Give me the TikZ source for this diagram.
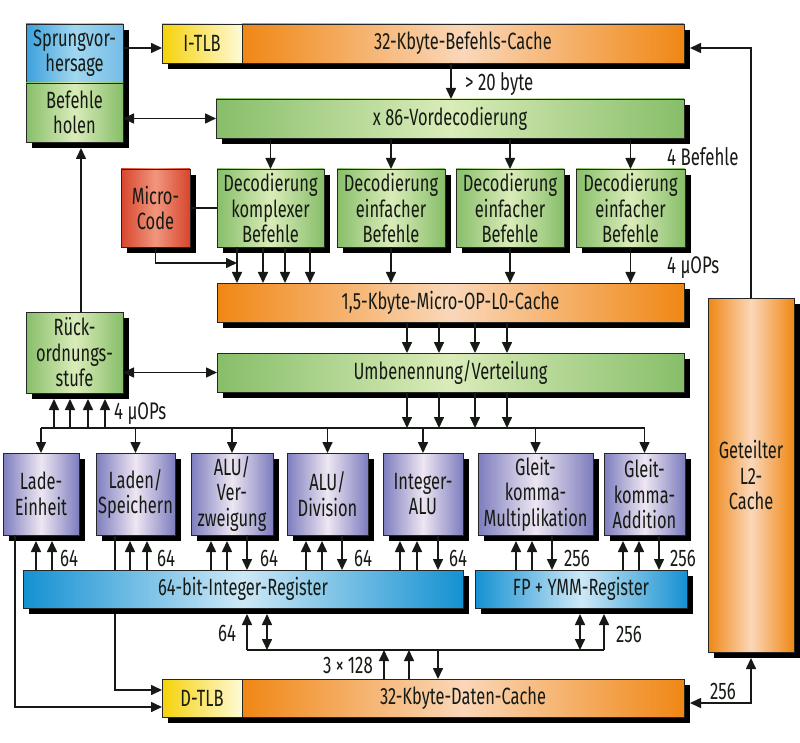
\documentclass[tikz,border=0pt]{standalone}
\usepackage{fontspec}
\setmainfont[FakeStretch=0.70]{Fira Sans}
\usetikzlibrary{arrows.meta,shadows}
\definecolor{txt}{RGB}{22,26,20}
\definecolor{grnE}{RGB}{135,190,105}
\definecolor{grnM}{RGB}{218,236,185}
\definecolor{orE}{RGB}{240,135,20}
\definecolor{orM}{RGB}{250,215,185}
\definecolor{bluE}{RGB}{60,160,220}
\definecolor{bluM}{RGB}{160,215,240}
\definecolor{regE}{RGB}{20,145,210}
\definecolor{regM}{RGB}{205,232,246}
\definecolor{purE}{RGB}{125,125,190}
\definecolor{purM}{RGB}{238,230,242}
\definecolor{redE}{RGB}{215,70,45}
\definecolor{redM}{RGB}{240,150,125}
\definecolor{yelE}{RGB}{245,210,10}
\definecolor{yelM}{RGB}{255,250,215}
\newcommand\mfont{\fontsize{23.5}{25.5}\selectfont}
\newcommand\lfont{\fontsize{24}{26}\selectfont}
\tikzset{
  box/.style={draw=black!85, line width=0.8pt, inner sep=0pt, outer sep=0pt,
    anchor=north west, align=center, text=txt, font=\mfont,
    drop shadow={shadow xshift=6pt, shadow yshift=-6pt, fill=black, opacity=1}},
  grn/.style={box, left color=grnE, right color=grnE, middle color=grnM},
  org/.style={box, left color=orE, right color=orE, middle color=orM},
  blu/.style={box, left color=bluE, right color=bluE!70!white, middle color=bluM},
  reg/.style={box, left color=regE, right color=regE, middle color=regM},
  pur/.style={box, left color=purE, right color=purE, middle color=purM},
  red/.style={box, left color=redE, right color=redE, middle color=redM},
  yel/.style={box, left color=yelE, right color=yelM},
  lbl/.style={text=txt, font=\lfont, inner sep=0pt},
  ln/.style={draw=txt, line width=1.6pt},
  arr/.style={ln, -{Triangle[length=11pt,width=10pt]}},
  darr/.style={ln, {Triangle[length=11pt,width=10pt]}-{Triangle[length=11pt,width=10pt]}},
}
\begin{document}
\begin{tikzpicture}[x=1pt,y=-1pt]
\useasboundingbox (0,0) rectangle (800,743);
% boxes
\node[blu, minimum width=97pt, minimum height=59pt] (sprung) at (26,24) {Sprungvor-\\hersage};
\node[grn, minimum width=97pt, minimum height=59pt] (holen) at (26,83) {Befehle\\holen};
\node[yel, minimum width=80pt, minimum height=39pt] (itlb) at (162,24) {I-TLB};
\node[org, minimum width=442pt, minimum height=39pt] (icache) at (242,24) {32-Kbyte-Befehls-Cache};
\node[grn, minimum width=468pt, minimum height=39pt] (x86) at (216,99) {x 86-Vordecodierung};
\node[red, minimum width=69pt, minimum height=78pt] (mcode) at (121,169) {Micro-\\Code};
\node[grn, minimum width=107pt, minimum height=78pt] (d1) at (217,169) {Decodierung\\komplexer\\Befehle};
\node[grn, minimum width=108pt, minimum height=78pt] (d2) at (337,169) {Decodierung\\einfacher\\Befehle};
\node[grn, minimum width=108pt, minimum height=78pt] (d3) at (456,169) {Decodierung\\einfacher\\Befehle};
\node[grn, minimum width=109pt, minimum height=78pt] (d4) at (576,169) {Decodierung\\einfacher\\Befehle};
\node[org, minimum width=467pt, minimum height=39pt] (l0) at (217,283) {1,5-Kbyte-Micro-OP-L0-Cache};
\node[grn, minimum width=467pt, minimum height=39pt] (ren) at (217,353) {Umbenennung/Verteilung};
\node[grn, minimum width=97pt, minimum height=81pt] (rob) at (26,312) {Rück-\\ordnungs-\\stufe};
\node[org, minimum width=86pt, minimum height=354pt] (l2) at (708,298) {Geteilter\\L2-\\Cache};
\node[pur, minimum width=76pt, minimum height=82pt] (eu1) at (3,453) {Lade-\\Einheit};
\node[pur, minimum width=79pt, minimum height=82pt] (eu2) at (96,453) {Laden/\\Speichern};
\node[pur, minimum width=82pt, minimum height=82pt] (eu3) at (191,453) {ALU/\\Ver-\\zweigung};
\node[pur, minimum width=81pt, minimum height=82pt] (eu4) at (287,453) {ALU/\\Division};
\node[pur, minimum width=80pt, minimum height=82pt] (eu5) at (383,453) {Integer-\\ALU};
\node[pur, minimum width=115pt, minimum height=82pt] (eu6) at (478,453) {Gleit-\\komma-\\Multiplikation};
\node[pur, minimum width=81pt, minimum height=82pt] (eu7) at (604,453) {Gleit-\\komma-\\Addition};
% line behind the integer register
\draw[ln] (115,0 |- eu2.south) -- (115,600);
\node[reg, minimum width=440pt, minimum height=38pt] (ireg) at (23,570) {64-bit-Integer-Register};
\node[reg, minimum width=212pt, minimum height=38pt] (freg) at (475,570) {FP + YMM-Register};
\node[yel, minimum width=80pt, minimum height=38pt] (dtlb) at (162,679) {D-TLB};
\node[org, minimum width=442pt, minimum height=38pt] (dcache) at (242,679) {32-Kbyte-Daten-Cache};
% helper coordinates
\coordinate (holenS) at ([yshift=-6pt]holen.south);
\coordinate (robS) at ([yshift=-6pt]rob.south);
\coordinate (euS) at ([yshift=-6pt]eu1.south);
\coordinate (iregS) at ([yshift=-6pt]ireg.south);
\coordinate (fregS) at ([yshift=-6pt]freg.south);
\coordinate (l2S) at ([yshift=-6pt]l2.south);
\coordinate (icacheE) at ([xshift=6pt,yshift=-4.5pt]icache.east);
\coordinate (dcacheE) at ([xshift=6pt,yshift=-5pt]dcache.east);
\coordinate (dtlbU) at ([yshift=8pt]dtlb.west);
\coordinate (dtlbL) at ([yshift=-9pt]dtlb.west);
\coordinate (mcin) at (237,263);
\coordinate (busL) at (eu1.north |- 0,428);
\coordinate (busR) at (eu7.north |- 0,428);
\coordinate (bus2L) at (247,650);
\coordinate (bus2R) at (604,650);
% front end
\draw[arr] (sprung.east |- 0,48) -- (itlb.west |- 0,48);
\draw[darr] (holen.east |- x86.west) -- (x86.west);
\draw[arr] (451,0 |- icache.south) -- (451,0 |- x86.north);
\node[lbl, anchor=west] (lb20) at (465,84) {> 20 byte};
\foreach \d in {d1,d2,d3,d4} \draw[arr] (x86.south -| \d) -- (\d.north);
\node[lbl, anchor=west] (lb4b) at (667,157) {4 Befehle};
\draw[ln] (mcode.east) -- (d1.west);
\draw[arr] (mcode.south) |- (mcin);
\foreach \x in {237,263,285,310} \draw[arr] (\x,0 |- d1.south) -- (\x,0 |- l0.north);
\foreach \d in {d2,d3,d4} \draw[arr] (\d.south) -- (\d.south |- l0.north);
\node[lbl, anchor=west] (lb4u) at (667,268) {4 µOPs};
\foreach \x in {407,439,475,507} {
  \draw[arr] (\x,0 |- l0.south) -- (\x,0 |- ren.north);
  \draw[arr] (\x,0 |- ren.south) -- (\x,0 |- busL);
}
\draw[ln] (busL) -- (busR);
\foreach \e in {eu1,eu2,eu3,eu4,eu5,eu6,eu7} \draw[arr] (\e.north |- busL) -- (\e.north);
\foreach \x in {54,70,88,105} \draw[arr] (\x,0 |- busL) -- (\x,0 |- robS);
\node[lbl, anchor=west] (lb4r) at (114,414) {4 µOPs};
\draw[darr] (rob.east |- ren.west) -- (ren.west);
\draw[arr] (81,0 |- rob.north) -- (81,0 |- holenS);
\draw[arr] (l2.north) |- (icacheE);
\draw[darr] (dcacheE) -| (l2S);
\node[lbl] (lb256c) at (723,691) {256};
% execution units <-> registers
\foreach \x in {36,52,130,147,211,227,306,322,400,417} \draw[arr] (\x,0 |- ireg.north) -- (\x,0 |- euS);
\foreach \x in {247,342,438} \draw[arr] (\x,0 |- eu1.south) -- (\x,0 |- ireg.north);
\foreach \x in {516,532,623,639} \draw[arr] (\x,0 |- freg.north) -- (\x,0 |- euS);
\foreach \x in {552,659} \draw[arr] (\x,0 |- eu1.south) -- (\x,0 |- freg.north);
\node[lbl] (l64a) at (69,558) {64};
\node[lbl] (l64b) at (166,558) {64};
\node[lbl] (l64c) at (269,558) {64};
\node[lbl] (l64d) at (363,558) {64};
\node[lbl] (l64e) at (458,558) {64};
\node[lbl] (l256a) at (577,558) {256};
\node[lbl] (l256b) at (683,558) {256};
% load paths to D-TLB
\draw[arr] (15,0 |- eu1.south) |- (dtlbL);
\draw[arr] (115,0 |- iregS) |- (dtlbU);
% register <-> data cache
\draw[ln] (bus2L) -- (bus2R);
\draw[arr] (bus2L) -- (bus2L |- iregS);
\draw[darr] (267,0 |- bus2L) -- (267,0 |- iregS);
\draw[darr] (580,0 |- bus2L) -- (580,0 |- fregS);
\draw[arr] (bus2R) -- (bus2R |- fregS);
\node[lbl] (l64f) at (227,633) {64};
\node[lbl] (l256d) at (629,634) {256};
\foreach \x in {384,409} \draw[arr] (\x,0 |- dcache.north) -- (\x,0 |- bus2L);
\draw[arr] (438,0 |- bus2L) -- (438,0 |- dcache.north);
\node[lbl, anchor=east] (l3x) at (373,665) {3\,×\,128};
\end{tikzpicture}
\end{document}
